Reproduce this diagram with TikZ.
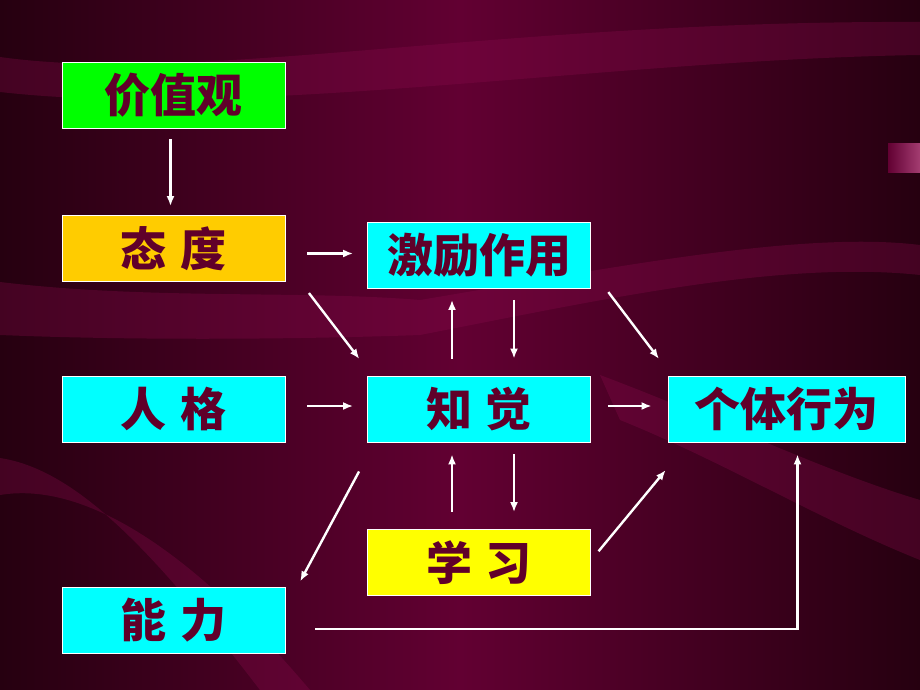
\documentclass[tikz,border=0pt]{standalone}
\usepackage{fontspec}
\newfontfamily\cjk{Noto Sans CJK SC}
\usetikzlibrary{arrows.meta}
\definecolor{bgmid}{RGB}{98,0,50}
\definecolor{bgdark}{RGB}{38,0,16}
\definecolor{band}{RGB}{140,12,78}
\definecolor{txtred}{RGB}{96,0,42}
\definecolor{boxgreen}{RGB}{0,255,0}
\definecolor{boxorange}{RGB}{255,204,0}
\definecolor{boxcyan}{RGB}{0,255,255}
\definecolor{boxyellow}{RGB}{255,255,0}

\begin{document}
\begin{tikzpicture}[x=1pt, y=-1pt,
  box/.style={draw=white, line width=0.8pt, minimum width=223pt, minimum height=66pt,
    inner sep=0pt, text=txtred, font=\cjk\bfseries\fontsize{46}{50}\selectfont},
  arr/.style={draw=white, line width=2.4pt, -{Latex[length=10pt,width=8pt]}}]
  % background
  \useasboundingbox (0,0) rectangle (920,690);
  \shade[left color=bgdark, right color=bgdark, middle color=bgmid] (0,0) rectangle (920,690);
  \begin{scope}[fill=band, fill opacity=0.3]
    \fill (0,57) .. controls (200,85) and (500,20) .. (920,22) -- (920,55)
      .. controls (600,60) and (250,120) .. (0,92) -- cycle;
    \fill (0,282) .. controls (150,300) and (300,290) .. (420,300)
      .. controls (600,270) and (800,230) .. (920,245) -- (920,275)
      .. controls (780,260) and (600,300) .. (420,335)
      .. controls (280,340) and (120,340) .. (0,335) -- cycle;
    \fill (0,458) .. controls (80,470) and (160,560) .. (260,690) -- (310,690)
      .. controls (200,560) and (90,480) .. (0,495) -- cycle;
    \fill (600,375) .. controls (720,420) and (820,470) .. (920,500) -- (920,560)
      .. controls (820,520) and (720,460) .. (620,420) -- cycle;
  \end{scope}
  \shade[left color=bgmid, right color=band!80!white] (888,143) rectangle (920,172);
  % boxes
  \node[box, fill=boxgreen] (jiazhi) at (173.5,95) {价值观};
  \node[box, fill=boxorange] (taidu) at (173.5,248.5) {态\hspace{0.3em}度};
  \node[box, fill=boxcyan] (jili) at (479,255.5) {激励作用};
  \node[box, fill=boxcyan] (renge) at (173.5,409) {人\hspace{0.3em}格};
  \node[box, fill=boxcyan] (zhijue) at (479,409) {知\hspace{0.3em}觉};
  \node[box, fill=boxcyan, minimum width=237pt] (xingwei) at (786.5,409) {个体行为};
  \node[box, fill=boxyellow] (xuexi) at (479,562.5) {学\hspace{0.3em}习};
  \node[box, fill=boxcyan] (nengli) at (173.5,620) {能\hspace{0.3em}力};
  % arrows
  \draw[arr, shorten <=11pt, shorten >=9pt] ([xshift=-3pt]jiazhi.south) -- ([xshift=-3pt]taidu.north);
  \draw[arr, shorten <=22pt, shorten >=14pt] ([yshift=2pt]jili.west -| taidu.east) -- ([yshift=2pt]jili.west);
  \draw[arr, shorten <=14pt, shorten >=21pt] ([xshift=15pt]taidu.south east) -- ([xshift=5pt]zhijue.north west);
  \draw[arr, shorten <=17pt, shorten >=11pt] ([xshift=-27pt]zhijue.north) -- ([xshift=-27pt]jili.south);
  \draw[arr, shorten <=11pt, shorten >=17pt] ([xshift=35pt]jili.south) -- ([xshift=35pt]zhijue.north);
  \draw[arr, shorten <=4pt, shorten >=21pt] ([xshift=15pt]jili.south east) -- ([xshift=4pt]xingwei.north west);
  \draw[arr, shorten <=22pt, shorten >=14pt] ([yshift=3pt]renge.east) -- ([yshift=3pt]zhijue.west);
  \draw[arr, shorten <=17pt, shorten >=16pt] ([yshift=3pt]zhijue.east) -- ([yshift=3pt]xingwei.west);
  \draw[arr, shorten <=17pt, shorten >=12pt] ([xshift=-27pt]xuexi.north) -- ([xshift=-27pt]zhijue.south);
  \draw[arr, shorten <=12pt, shorten >=17pt] ([xshift=35pt]zhijue.south) -- ([xshift=35pt]xuexi.north);
  \draw[arr, shorten <=33pt, shorten >=6pt] ([xshift=7.5pt]zhijue.south west) -- ([xshift=12pt]nengli.north east);
  \draw[arr, shorten <=12pt, shorten >=36pt] ([yshift=2pt]xuexi.east) -- ([xshift=21pt]xingwei.south west);
  \draw[arr, shorten <=30pt, shorten >=12pt] ([yshift=-9pt]nengli.east) -| ([xshift=11pt]xingwei.south);
\end{tikzpicture}
\end{document}
